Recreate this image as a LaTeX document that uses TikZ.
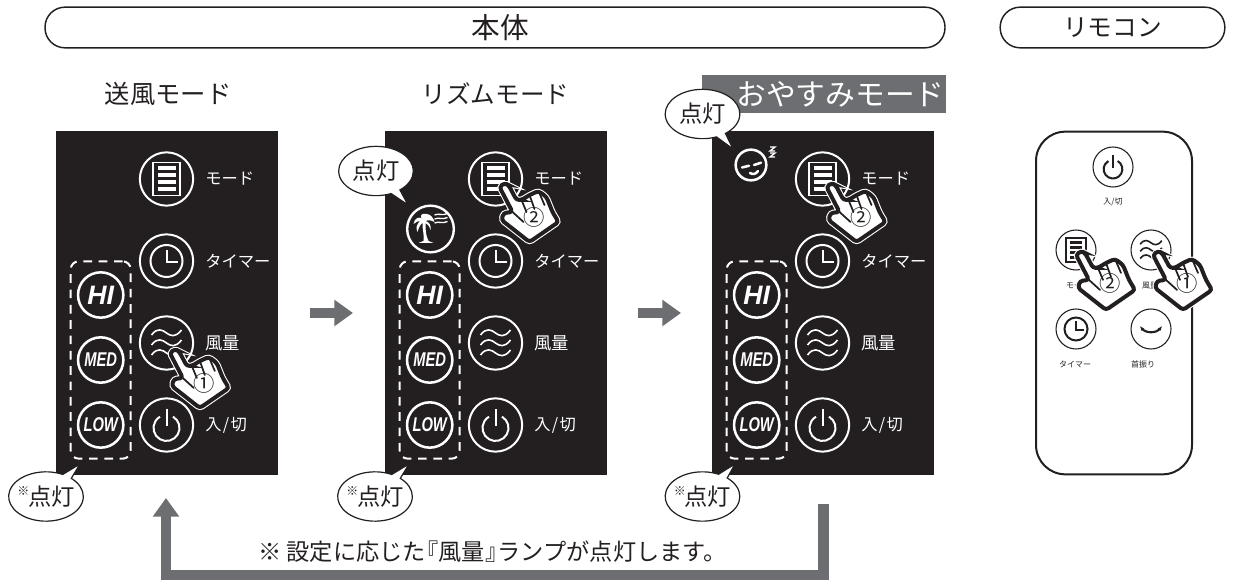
\documentclass[tikz,border=0pt]{standalone}
\usepackage{fontspec}
\usepackage{tikz}
\usetikzlibrary{arrows.meta,shapes.callouts,shapes.geometric}

\setmainfont{Noto Sans CJK JP}
\newfontfamily\lampfont{Liberation Sans}

\definecolor{panelblack}{HTML}{231F20}
\definecolor{arrowgray}{HTML}{6D6E71}

\tikzset{
    headpill/.style={draw=panelblack, line width=1.1pt, rounded corners=15pt, text=panelblack, inner sep=0pt},
    title/.style={text=panelblack, inner sep=0pt},
    panel/.style={fill=panelblack, minimum width=166.5pt, minimum height=258pt, inner sep=0pt, outer sep=0pt},
    bigbutton/.style={draw=white, line width=1.5pt, circle, minimum size=40pt, inner sep=0pt},
    lampbutton/.style={draw=white, line width=1.9pt, circle, minimum size=34pt, inner sep=0pt, text=white},
    remotebutton/.style={draw=panelblack, fill=white, line width=.8pt, circle, minimum size=30pt, inner sep=0pt},
    panellabel/.style={text=white, anchor=west, inner sep=0pt, font=\fontsize{12.2}{12.2}\selectfont},
    remotelabel/.style={text=panelblack, inner sep=0pt, font=\fontsize{6}{6}\selectfont},
    lampframe/.style={draw=white, line width=1.5pt, rounded corners=6pt, dash pattern=on 6.5pt off 5pt, minimum width=45pt, minimum height=148pt, inner sep=0pt},
    bubble/.style={ellipse callout, draw=panelblack, fill=white, line width=.9pt, minimum width=56pt, minimum height=37pt, inner sep=0pt, callout pointer arc=16, text=panelblack, font=\fontsize{17.5}{17.5}\selectfont},
    handnumber/.style={inner sep=0pt, text=panelblack, font=\fontsize{16}{16}\selectfont},
    grayarrow/.style={draw=arrowgray, line width=8pt, -{Triangle[length=14pt,width=19pt]}},
    modeicon/.pic={
        \draw[line width=1.3pt] (-13.5,-16.5) rectangle (13.5,16.5);
        \foreach \row in {-11,-4,3,10}
            \fill (-9,\row-2) rectangle (9,\row+2.5);
    },
    clockicon/.pic={
        \draw[line width=1.5pt] (0,0) circle (16);
        \draw[line width=1.5pt] (0,-11) -- (0,1) -- (11,1);
    },
    windicon/.pic={
        \foreach \row in {-10,0,10}
            \draw[line width=1.2pt] (-15,\row+2) .. controls (-9,\row-6) and (-4,\row-3) .. (0,\row) .. controls (4,\row+3) and (9,\row+5) .. (15,\row-3);
    },
    powericon/.pic={
        \draw[line width=1.5pt] (6.5,-8.3) arc[start angle=-60, end angle=240, radius=13];
        \draw[line width=1.5pt] (0,-16) -- (0,1);
    },
    swingicon/.pic={
        \draw[line width=1.6pt, {Stealth[length=3.5pt]}-{Stealth[length=3.5pt]}] (-12,-3) .. controls (-6,5) and (6,5) .. (12,-3);
    },
    palmicon/.pic={
        \fill (-17,-5) .. controls (-16,-11) and (-12,-12) .. (-9,-11) .. controls (-11,-14) and (-8,-16) .. (-4,-15)
            .. controls (0,-15) and (3,-11) .. (4,-7) .. controls (1,-9) and (-3,-9) .. (-5,-8)
            .. controls (-1,-7) and (1,-3) .. (0,1) .. controls (-1,-3) and (-3,-5) .. (-5,-6)
            .. controls (-5,0) and (-5,6) .. (-2,12) -- (3,14) -- (-12,14) -- (-7,12)
            .. controls (-6,7) and (-8,2) .. (-8,-6) .. controls (-11,-4) and (-12,0) .. (-13,3)
            .. controls (-15,-1) and (-14,-5) .. (-10,-8) .. controls (-12,-8) and (-15,-7) .. (-17,-5) -- cycle;
        \foreach \row in {-14,-10,-6}
            \draw[line width=1pt] (4,\row) .. controls (8,\row-2) and (12,\row+1) .. (17,\row-1.5);
    },
    sleepicon/.pic={
        \draw[line width=1.9pt, line cap=round] (-9,2.5) -- (-2,.8) (3,0) -- (10,-2.3);
        \draw[line width=1.9pt, line cap=round] (-1,8) .. controls (2,10) and (5,9) .. (7,6);
        \draw[line width=1pt] (19,-18) -- (24,-18) -- (19,-14) -- (24,-14) (19,-12) -- (24,-12) -- (19,-8) -- (24,-8);
    },
    handicon/.pic={
        \path[rounded corners=2.2pt, draw=white, line width=4.6pt]
            (3,-2) -- (-2,2) -- (11,27) -- (2,28) -- (0,35) -- (28,57) -- (57,37) -- (51,27) -- (45,12) -- (37,6)
            -- (28,10) -- (20,15) -- (15,15) -- (7,0) -- cycle;
        \path[rounded corners=2.2pt, draw=panelblack, fill=white, line width=3pt]
            (3,-2) -- (-2,2) -- (11,27) -- (2,28) -- (0,35) -- (28,57) -- (57,37) -- (51,27) -- (45,12) -- (37,6)
            -- (28,10) -- (20,15) -- (15,15) -- (7,0) -- cycle;
        \draw[panelblack, line width=1.3pt, line cap=round] (20,15) -- (25,27) (28,10) -- (33,24) (37,6) -- (43,20) (11,27) -- (22,37);
    },
}

% one control panel: name, left edge
\newcommand{\controlpanel}[2]{
    \node[panel] (#1body) at (#2+111,303) {};
    \node[bigbutton] (#1mode) at (#2+110.5,179) {};
    \node[bigbutton] (#1timer) at (#2+110.5,261) {};
    \node[bigbutton] (#1wind) at (#2+110.5,343) {};
    \node[bigbutton] (#1power) at (#2+110.5,425) {};
    \pic[color=white] at (#1mode) {modeicon};
    \pic[color=white] at (#1timer) {clockicon};
    \pic[color=white] at (#1wind) {windicon};
    \pic[color=white] at (#1power) {powericon};
    \node[lampbutton, font=\lampfont\bfseries\itshape\fontsize{20}{20}\selectfont] (#1hi) at (#2+44.7,295) {HI};
    \node[lampbutton, font=\lampfont\bfseries\itshape\fontsize{13}{13}\selectfont] (#1med) at (#2+44.7,360) {\scalebox{.85}[1.15]{MED}};
    \node[lampbutton, font=\lampfont\bfseries\itshape\fontsize{13}{13}\selectfont] (#1low) at (#2+44.7,425) {\scalebox{.85}[1.15]{LOW}};
    \node[lampframe] (#1frame) at (#2+44.7,360) {};
    \node[panellabel] (#1modelabel) at (#2+149,179) {モード};
    \node[panellabel] (#1timerlabel) at (#2+149,261) {タイマー};
    \node[panellabel, font=\fontsize{13}{13}\selectfont] (#1windlabel) at (#2+149,343) {風量};
    \node[panellabel] (#1powerlabel) at (#2+149,425) {入\kern1pt/\kern1pt 切};
}
% text of the lower bubbles
\newcommand{\lamptext}{\makebox[32pt][c]{\raisebox{.8ex}{\fontsize{9}{9}\selectfont ※}\kern-1pt点灯}}

\begin{document}
\begin{tikzpicture}[x=0.75pt,y=-0.75pt]
        \useasboundingbox (0,0) rectangle (1235,580);

        % Headers
        \node[headpill, minimum width=675pt, minimum height=30.5pt] (mainpill) at (495,27.5){};
        \node[inner sep=0pt, text=panelblack, font=\fontsize{21.5}{21.5}\selectfont] (maintext) at (500,27.5){本体};
        \node[headpill, minimum width=168.5pt, minimum height=30.5pt, font=\fontsize{18.5}{18.5}\selectfont] (remotepill) at (1112.5,27.5){リモコン};

        % Mode titles
        \node[title, font=\fontsize{19}{19}\selectfont] (fantitle) at (168,94){送風モード};
        \node[title, font=\fontsize{18.4}{18.4}\selectfont] (rhythmtitle) at (495.5,94){リズムモード};
        \node[fill=arrowgray, minimum width=183pt, minimum height=28.5pt, inner sep=0pt] (sleepbar) at (824,94){};
        \node[title, text=white, font=\fontsize{22.3}{22.3}\selectfont] (sleeptitle) at (840.5,94){おやすみモード};

        % Panels
        \controlpanel{fan}{56}
        \controlpanel{rhythm}{385}
        \controlpanel{sleep}{712}

        % Rhythm and sleep lamps
        \node[draw=white, line width=1.8pt, circle, minimum size=35pt, inner sep=0pt] (palm) at (430.5,229){};
        \pic[color=white] at (palm) {palmicon};
        \node[draw=white, line width=1.9pt, circle, minimum size=23pt, inner sep=0pt] (sleepface) at (751,165){};
        \pic[color=white] at (sleepface) {sleepicon};

        % Hands on the panels
        \pic at ([xshift=4pt,yshift=-6pt]fanwind) {handicon};
        \node[handnumber] (fanone) at (204,383){①};
        \pic at ([xshift=4.5pt,yshift=-4.5pt]rhythmmode) {handicon};
        \node[handnumber] (rhythmtwo) at (534,217){②};
        \pic at ([xshift=4.5pt,yshift=-4.5pt]sleepmode) {handicon};
        \node[handnumber] (sleeptwo) at (861,217){②};

        % Speech bubbles
        \node[bubble, callout absolute pointer={(80,464)}] (fanbubble) at (46,496.5){\lamptext};
        \node[bubble, callout absolute pointer={(409,464)}] (rhythmbubble) at (375,496.5){\lamptext};
        \node[bubble, callout absolute pointer={(735,464)}] (sleepbubble) at (702.5,496.5){\lamptext};
        \node[bubble, callout absolute pointer={(408,205)}] (palmbubble) at (376,171){\makebox[32pt][c]{点灯}};
        \node[bubble, callout absolute pointer={(733,149)}] (facebubble) at (702.5,114){\makebox[32pt][c]{点灯}};

        % Arrows between the panels
        \coordinate (firststart) at (310,313);
        \coordinate (firstend) at (353,313);
        \coordinate (secondstart) at (638,313);
        \coordinate (secondend) at (681,313);
        \draw[grayarrow] (firststart) -- (firstend);
        \draw[grayarrow] (secondstart) -- (secondend);

        % Return arrow
        \coordinate (returnstart) at (823.5,504);
        \coordinate (returncorner) at (166,575);
        \coordinate (returnend) at (166,498);
        \draw[grayarrow] (returnstart) |- (returncorner) -- (returnend);
        \node[inner sep=0pt, text=panelblack, font=\fontsize{17.4}{17.4}\selectfont] (note) at (492.5,552){※ 設定に応じた\kern-.45em『風量』\kern-.45em ランプが点灯します。};

        % Remote
        \node[draw=panelblack, fill=white, line width=1.5pt, rounded corners=22pt, minimum width=117pt, minimum height=257pt, inner sep=0pt] (remote) at (1114,303){};
        \node[remotebutton] (remotepower) at (1113,167){};
        \node[remotebutton] (remotemode) at (1076,250){};
        \node[remotebutton] (remotewind) at (1151,250){};
        \node[remotebutton] (remotetimer) at (1076,329){};
        \node[remotebutton] (remoteswing) at (1151,329){};
        \pic[color=panelblack, scale=.72] at (remotepower) {powericon};
        \pic[color=panelblack, scale=.72] at (remotemode) {modeicon};
        \pic[color=panelblack, scale=.72] at (remotewind) {windicon};
        \pic[color=panelblack, scale=.72] at (remotetimer) {clockicon};
        \pic[color=panelblack, scale=.9] at (remoteswing) {swingicon};
        \node[remotelabel] (powertext) at (1113,202){入/切};
        \node[remotelabel] (modetext) at (1078,286){モード};
        \node[remotelabel] (windtext) at (1150,286){風量};
        \node[remotelabel] (timertext) at (1075,364){タイマー};
        \node[remotelabel] (swingtext) at (1143,364){首振り};
        \pic at ([xshift=1.5pt,yshift=-2.2pt]remotemode) {handicon};
        \node[handnumber] (remotetwo) at (1110,283){②};
        \pic at ([xshift=3pt,yshift=-2.2pt]remotewind) {handicon};
        \node[handnumber] (remoteone) at (1187,283){①};
\end{tikzpicture}
\end{document}
